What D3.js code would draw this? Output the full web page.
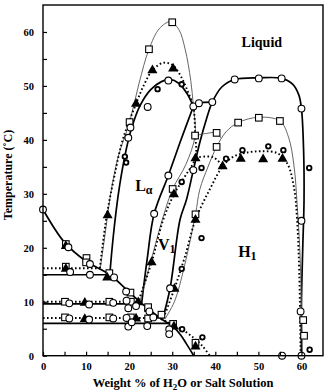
<!DOCTYPE html>
<html><head><meta charset="utf-8">
<script src="https://cdn.jsdelivr.net/npm/d3@7"></script>
<style>
html,body{margin:0;padding:0;background:#fff;}
svg{display:block;}
text{font-family:"Liberation Serif","Times New Roman",serif;font-weight:bold;fill:#000;}
</style></head>
<body>
<svg id="chart" width="328" height="392"></svg>
<script>
// ---------- data (weight %, temperature °C) ----------
const xTickValues = [0, 10, 20, 30, 40, 50, 60];
const yTickValues = [0, 10, 20, 30, 40, 50, 60];

// solid lines (H2O, open circles)
const circleSolubility = [[0,27.1],[5,21],[10,17.5],[15.5,15],[20,11.8],[22.9,9.7],[25.5,8],[27.5,6.8],[30.2,5.4],[32,3.8],[33.3,2.2],[35,0]];
const circleLaDome = [[15.5,15],[16.3,22],[17.5,30],[19,37],[20.5,42],[22.5,46.3],[25,49.3],[27.5,50.8],[29.5,51.2],[31.5,50.5],[33.5,48.5],[34.9,46.2]];
const circleLaRight = [[34.9,46.2],[31.8,39.5],[29.1,33.4],[25.8,26.3],[24.2,18],[22.9,9.7]];
const circleV1Top = [[34.9,46.2],[36.2,46.8],[39.3,47.0]];
const circleH1 = [[27.8,6.9],[29.5,12.5],[31.8,25.2],[33.3,28.9],[34.9,34.4],[36.4,39.5],[38,44],[39.3,47],[41.5,49.8],[44.5,51.2],[50.1,51.5],[55.4,51.4],[58,50.3],[59.4,48.3],[60,45.8],[60.5,38],[60.6,29],[60.3,20],[60,10],[60,0]];
const circleTies = [[15, 0, 15.5], [9.6, 0, 22.9], [6.0, 0, 29.6]]; // [T, from, to]

// thin lines (open squares)
const squareLa = [[13.3,16.2],[14.5,23],[15.7,30],[17.5,37],[20.1,43.3],[22.3,50.5],[24.6,56.8],[27,60.6],[29.5,61.9],[31.5,60.5],[33,56.8],[34.3,51],[34.9,46.3],[35.3,40.8],[33.2,35.5],[30.1,30.9],[27.8,25.5],[25.2,18],[22.5,10]];
const squareV1Top = [[35.3,40.8],[38,41.2],[40.3,41.3],[41.3,40.3]];
const squareH1 = [[28.3,6.8],[30.5,10],[32.8,16.5],[35.4,26.2],[36.4,30.8],[38.3,35],[40.3,38.7],[42.5,41.5],[45.3,43.2],[50.1,44.2],[55,43.5],[57,40.5],[58.3,35],[59,28],[59.6,20],[60,10],[60.2,0]];

// dotted lines (filled triangles)
const triangleLa = [[13.2,16.2],[14.8,26],[16.5,33],[18.5,40],[21.6,46.7],[23.5,50.3],[25.4,52.9],[28,54.3],[30.2,53.8],[32.2,51.5],[33.7,48.8],[34.9,46.2],[35.3,41.3],[35.4,36.7],[33,33.3],[30.4,29.9],[27.9,25.2],[25.2,17.3],[22.1,10]];
const triangleV1Top = [[35.4,36.7],[39.5,36.8],[41.7,35.1]];
const triangleH1 = [[28,7],[30.5,12.4],[33,18.5],[35.4,25.2],[38.7,30.8],[41.7,35.1],[44,36.8],[47,37.6],[51,37.9],[54.5,37.5],[56.8,35.5],[58.3,31],[59,25],[59.5,15],[59.8,0]];
const triangleSolubility = [[26.5,7.1],[29,6.2],[32.2,4.9],[35,3.3],[37,1.8],[38.7,0]];
const triangleTies = [[16.2, 0, 13.2], [10.0, 0, 22.1], [7.0, 0, 27.0]];

// measured points
const circlePts = [[0,27.1],[5.9,20.1],[10.9,17.0],[6.3,15.5],[10.9,15.0],[16.5,14.5],[19.3,11.9],
 [6.1,9.7],[10.7,9.5],[16.3,9.8],[19.4,10.2],[19.8,8.8],[21.6,9.2],[24.7,8.2],
 [6.1,6.9],[10.7,6.7],[16.3,6.9],[19.4,7.0],[19.8,5.4],[20.6,6.2],[24.2,5.5],[25.6,7.1],[29.3,4.9],[29.3,4.0],
 [19.8,40.4],[20.3,42.3],[24.3,46.1],[29.1,51.0],[29.1,33.4],[25.8,26.3],
 [34.9,46.2],[36.2,46.8],[39.3,47.0],[34.9,34.4],[29.5,12.5],
 [44.5,51.2],[50.1,51.4],[55.4,51.4],[60,45.8],[60,25],[59.8,8.2],[60,0],[55.5,0]];
const squarePts = [[5.3,20.7],[10.1,18.1],[15.4,15.3],[20.3,11.7],[24.4,8.8],[5.3,16.5],[10,17.3],
 [5.1,10],[15.4,10],[20.4,10],[24.4,9.0],[5.1,7.1],[15.4,7.1],[20.4,7.1],[24.4,6.9],[27.5,7.6],[30.2,5.9],[35.4,2.4],
 [20.1,43.3],[24.6,56.8],[30.0,61.8],[35.3,40.8],[30.1,30.9],[40.3,41.3],
 [40.3,38.7],[45.3,43.2],[50.1,44.1],[55,43.5],[35.4,26.2],[60.4,6.6],[60.6,3.7]];
const trianglePts = [[5.3,20.3],[5.3,16.1],[14.9,14.5],[9.7,9.8],[22.1,9.9],[9.7,6.8],[21.6,6.9],[30.4,5.4],[35.4,1.7],
 [15.0,26.0],[21.6,46.7],[25.4,52.9],[30.2,53.2],[35.4,36.6],[30.4,29.9],[25.2,17.3],
 [41.7,35.1],[45.9,36.5],[51.1,36.4],[55.6,36.5],[35.4,25.2],[30.5,12.4]];
const diamondPts = [[19.0,36.9],[19.3,35.8],[26.6,49.4],[32.2,50.3],[32.2,32.2],[36.8,34.8],[42.5,36.5],
 [46.3,38.1],[52.3,38.8],[55.8,38.1],[61.8,34.8],[36.8,21.8],[32.2,16.1],[32.3,4.9],[37.0,3.4],[61.9,1.1]];

// region labels [text, subscript, x, T]
const regionLabels = [["Liquid","",50.8,57.2],["L","\u03b1",21.4,30.5],["V","1",26.7,19.6],["H","1",45.3,18.3]];

// ---------- drawing ----------
const svg = d3.select("#chart");
const x = d3.scaleLinear().domain([0,65]).range([43,323]);
const y = d3.scaleLinear().domain([0,65]).range([355.7,5]);

const line = d3.line().x(d=>x(d[0])).y(d=>y(d[1])).curve(d3.curveCatmullRom.alpha(0.5));
const g = svg.append("g");

function drawLine(data, style){
  const p = g.append("path").attr("d", line(data)).attr("fill","none");
  if(style==="solid") p.attr("stroke","#000").attr("stroke-width",1.7);
  if(style==="thin") p.attr("stroke","#555").attr("stroke-width",0.9);
  if(style==="dot") p.attr("stroke","#000").attr("stroke-width",1.9).attr("stroke-dasharray","1.6,2.4");
}
[circleSolubility,circleLaDome,circleLaRight,circleV1Top,circleH1].forEach(d=>drawLine(d,"solid"));
[squareLa,squareV1Top,squareH1].forEach(d=>drawLine(d,"thin"));
[triangleLa,triangleV1Top,triangleH1,triangleSolubility].forEach(d=>drawLine(d,"dot"));
circleTies.forEach(t=>drawLine([[t[1],t[0]],[t[2],t[0]]],"solid"));
triangleTies.forEach(t=>drawLine([[t[1],t[0]],[t[2],t[0]]],"dot"));

// markers
g.selectAll(".sq").data(squarePts).join("rect")
  .attr("x",d=>x(d[0])-3.3).attr("y",d=>y(d[1])-3.3).attr("width",6.6).attr("height",6.6)
  .attr("fill","#fff").attr("stroke","#000").attr("stroke-width",1.1);
g.selectAll(".tr").data(trianglePts).join("path")
  .attr("transform",d=>`translate(${x(d[0])},${y(d[1])})`)
  .attr("d",d3.symbol(d3.symbolTriangle,44)).attr("fill","#000");
g.selectAll(".ci").data(circlePts).join("circle")
  .attr("cx",d=>x(d[0])).attr("cy",d=>y(d[1])).attr("r",3.4)
  .attr("fill","#fff").attr("stroke","#000").attr("stroke-width",1.1);
g.selectAll(".di").data(diamondPts).join("circle")
  .attr("cx",d=>x(d[0])).attr("cy",d=>y(d[1])).attr("r",2.3)
  .attr("fill","#fff").attr("stroke","#000").attr("stroke-width",1.8);

// axes
const xAxis = d3.axisBottom(x).tickValues(d3.range(0,61,5)).tickSizeInner(-4).tickSizeOuter(0).tickPadding(7)
  .tickFormat(d=> xTickValues.includes(d) ? d : "");
const yAxis = d3.axisLeft(y).tickValues(d3.range(0,61,5)).tickSizeInner(-4).tickSizeOuter(0).tickPadding(9)
  .tickFormat(d=> yTickValues.includes(d) ? d : "");
const gx = svg.append("g").attr("transform","translate(0,355.7)").call(xAxis);
const gy = svg.append("g").attr("transform","translate(43,0)").call(yAxis);
[gx,gy].forEach(a=>{
  a.select(".domain").remove();
  a.selectAll(".tick line").attr("stroke","#000").attr("stroke-width",1.2);
  a.selectAll("text").style("font-size","10.5px").style("font-family","'Liberation Serif',serif").style("font-weight","bold");
});
// frame
svg.append("rect").attr("x",x(0)).attr("y",y(65)).attr("width",x(65)-x(0)).attr("height",y(0)-y(65))
  .attr("fill","none").attr("stroke","#000").attr("stroke-width",1.4);

// region labels
regionLabels.forEach(r=>{
  const t = svg.append("text").attr("x",x(r[2])).attr("y",y(r[3]))
    .style("font-size", r[0]==="Liquid" ? "14px" : "16px")
    .attr("text-anchor", r[0]==="Liquid" ? "middle" : "start");
  t.append("tspan").text(r[0]);
  if(r[1]) t.append("tspan").attr("dy",3).style("font-size","12px").text(r[1]);
});

// axis titles
const xt = svg.append("text").attr("x",183).attr("y",387).attr("text-anchor","middle").style("font-size","12.5px");
xt.append("tspan").text("Weight % of H");
xt.append("tspan").attr("dy",2.5).style("font-size","9px").text("2");
xt.append("tspan").attr("dy",-2.5).text("O or Salt Solution");
svg.append("text").attr("transform","translate(12,175) rotate(-90)").attr("text-anchor","middle")
  .style("font-size","12px").text("Temperature (\u02daC)");
</script>
</body></html>
